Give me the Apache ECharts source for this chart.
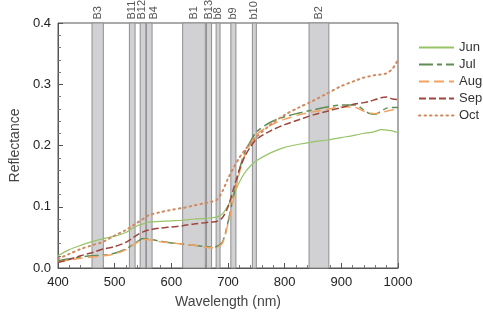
<!DOCTYPE html>
<html><head><meta charset="utf-8">
<script src="https://cdn.jsdelivr.net/npm/echarts@6/dist/echarts.min.js"></script>
<style>html,body{margin:0;padding:0;background:#fff}#c{width:483px;height:314px}</style>
</head><body><div id="c"></div>
<script>
const wavelengths = [400,420,440,460,480,500,520,530,540,550,560,580,600,620,640,660,670,680,690,700,710,720,730,740,750,775,800,825,850,875,900,925,940,950,960,970,980,990,1000];
const jun = [0.020,0.030,0.037,0.043,0.048,0.052,0.058,0.064,0.069,0.072,0.075,0.076,0.077,0.078,0.080,0.081,0.082,0.083,0.088,0.102,0.120,0.140,0.156,0.167,0.175,0.188,0.197,0.202,0.206,0.209,0.213,0.217,0.220,0.221,0.223,0.226,0.225,0.224,0.221];
const jul = [0.012,0.015,0.018,0.020,0.021,0.024,0.031,0.037,0.043,0.048,0.047,0.044,0.041,0.039,0.037,0.035,0.034,0.035,0.042,0.075,0.118,0.160,0.190,0.207,0.222,0.238,0.247,0.253,0.258,0.263,0.266,0.266,0.258,0.252,0.251,0.256,0.261,0.262,0.262];
const aug = [0.010,0.013,0.016,0.018,0.020,0.023,0.030,0.036,0.042,0.047,0.046,0.043,0.041,0.039,0.037,0.034,0.033,0.034,0.040,0.072,0.113,0.155,0.185,0.203,0.218,0.233,0.243,0.250,0.255,0.259,0.263,0.262,0.256,0.253,0.252,0.254,0.256,0.258,0.259];
const sep = [0.009,0.014,0.020,0.025,0.031,0.035,0.042,0.048,0.054,0.059,0.062,0.065,0.067,0.069,0.072,0.074,0.075,0.076,0.082,0.100,0.130,0.160,0.183,0.198,0.210,0.224,0.234,0.242,0.250,0.256,0.262,0.268,0.270,0.272,0.275,0.278,0.279,0.276,0.275];
const oct = [0.015,0.023,0.031,0.037,0.043,0.053,0.062,0.068,0.074,0.080,0.086,0.091,0.095,0.098,0.102,0.106,0.108,0.111,0.125,0.146,0.164,0.180,0.193,0.204,0.214,0.234,0.250,0.262,0.273,0.285,0.297,0.306,0.311,0.313,0.315,0.316,0.318,0.325,0.340];
const seriesNames = ['Jun','Jul','Aug','Sep','Oct'];
const bandNames = ['B3','B11','B12','B4','B1','B13','b8','b9','b10','B2'];
const bandStart = [460,526,545,556,620,662,679,705,743,843];
const bandEnd   = [480,536,555,566,660,671,686,714,750,878];
const xTicks = [400,500,600,700,800,900,1000];
const yTicks = [0.0,0.1,0.2,0.3,0.4];

const FONT = 'Liberation Sans, Arial, sans-serif';
const chart = echarts.init(document.getElementById('c'));
const zip = arr => wavelengths.map((w,i)=>[w,arr[i]]);
const styles = [
  {color:'#98c468', type:'solid', width:1.2},
  {color:'#5f8c55', type:[14,4,5,4], width:1.5},
  {color:'#f4a262', type:[10,5], width:1.5},
  {color:'#9c463c', type:[7,3], width:1.5},
  {color:'#d08a60', type:[1.5,4], width:2, cap:'round'}
];
const values = [jun,jul,aug,sep,oct];
const lineSeries = seriesNames.map((n,i)=>({
  name:n, type:'line', data:zip(values[i]), symbol:'none', smooth:0.3, z:3,
  lineStyle:{color:styles[i].color, type:styles[i].type, width:styles[i].width, cap:styles[i].cap||'butt'},
  itemStyle:{color:styles[i].color}
}));
const bandSeries = {
  type:'line', data:[], silent:true, z:1,
  markArea:{
    silent:true,
    itemStyle:{color:'#d1d1d3', borderColor:'#8f8f8f', borderWidth:1},
    label:{show:true, position:'top', rotate:90, align:'left', verticalAlign:'middle', distance:3,
      color:'#555', fontSize:11, fontFamily:FONT},
    data: bandNames.map((n,i)=>[{name:n, xAxis:bandStart[i], label: n==='B4'?{offset:[0,5]}:(n==='B12'?{offset:[0,-1]}:undefined)},{xAxis:bandEnd[i]}])
  }
};
chart.setOption({
  animation:false,
  textStyle:{fontFamily:FONT},
  grid:{left:58, right:85, top:23, bottom:45, show:true, borderColor:'#555', borderWidth:1, backgroundColor:'transparent'},
  legend:{data:seriesNames, orient:'vertical', left:413, top:36, itemWidth:35, itemHeight:12, itemGap:4,
    itemStyle:{opacity:0},
    textStyle:{fontSize:13, color:'#333', fontFamily:FONT}},
  xAxis:{type:'value', min:400, max:1000, interval:100,
    name:'Wavelength (nm)', nameLocation:'middle', nameGap:27, nameTextStyle:{fontSize:14, color:'#444', fontFamily:FONT},
    axisLine:{lineStyle:{color:'#555'}},
    axisTick:{inside:true, length:5, lineStyle:{color:'#555'}},
    minorTick:{show:true, splitNumber:5, length:3, lineStyle:{color:'#777'}},
    splitLine:{show:false},
    axisLabel:{fontSize:13, color:'#222', margin:8, formatter:v=>xTicks.includes(v)?String(v):''}},
  yAxis:{type:'value', min:0, max:0.4, interval:0.1,
    name:'Reflectance', nameLocation:'middle', nameGap:35, nameTextStyle:{fontSize:14, color:'#444', fontFamily:FONT},
    axisLine:{show:true, lineStyle:{color:'#555'}},
    axisTick:{show:true, inside:true, length:5, lineStyle:{color:'#555'}},
    minorTick:{show:true, splitNumber:5, length:3, lineStyle:{color:'#777'}},
    splitLine:{show:false},
    axisLabel:{fontSize:13, color:'#222', margin:7, formatter:v=>{const t=yTicks.find(y=>Math.abs(y-v)<1e-9);return t===undefined?'':t.toFixed(1);}}},
  series:[bandSeries].concat(lineSeries)
});
</script></body></html>
